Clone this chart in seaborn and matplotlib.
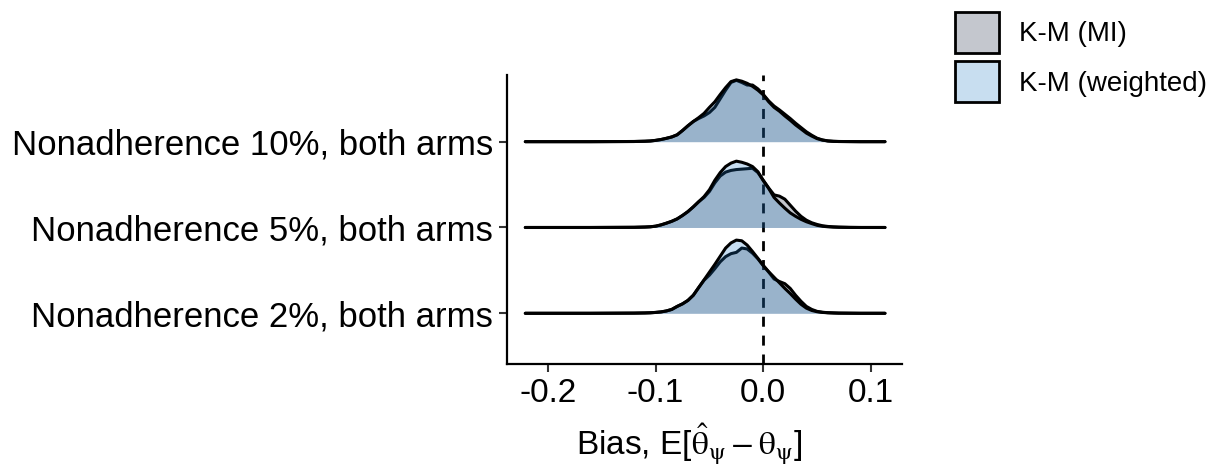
import numpy as np
import pandas as pd
import matplotlib
matplotlib.use("Agg")
import matplotlib.pyplot as plt
from matplotlib.patches import Patch
import seaborn as sns

# ---------------- data ----------------
categories = ["Nonadherence 2%, both arms",
              "Nonadherence 5%, both arms",
              "Nonadherence 10%, both arms"]
methods = ["K-M (MI)", "K-M (weighted)"]

# evaluation grid of the bias (x)
bias_grid = [-0.221, -0.16, -0.12, -0.11, -0.105, -0.10, -0.095, -0.09, -0.085, -0.08,
             -0.075, -0.07, -0.065, -0.06, -0.055, -0.05, -0.045, -0.04, -0.035, -0.03,
             -0.025, -0.02, -0.015, -0.01, -0.005, 0.0, 0.005, 0.01, 0.015, 0.02,
             0.025, 0.03, 0.035, 0.04, 0.045, 0.05, 0.055, 0.06, 0.065, 0.07,
             0.08, 0.09, 0.113]

# scaled ridge heights (fraction of row spacing)
dens_mi_2 = [0, 0, 0.002, 0.004, 0.006, 0.01, 0.016, 0.027, 0.045, 0.08,
             0.11, 0.15, 0.21, 0.30, 0.385, 0.445, 0.52, 0.60, 0.66, 0.695,
             0.71, 0.76, 0.75, 0.70, 0.635, 0.555, 0.48, 0.40, 0.37, 0.345,
             0.29, 0.21, 0.14, 0.08, 0.045, 0.022, 0.012, 0.007, 0.004, 0.002,
             0.001, 0, 0]
dens_w_2 = [0, 0, 0.002, 0.004, 0.006, 0.01, 0.016, 0.027, 0.045, 0.08,
            0.11, 0.15, 0.21, 0.30, 0.39, 0.48, 0.57, 0.665, 0.76, 0.82,
            0.853, 0.845, 0.795, 0.72, 0.64, 0.556, 0.485, 0.42, 0.355, 0.29,
            0.23, 0.165, 0.105, 0.06, 0.033, 0.018, 0.01, 0.006, 0.004, 0.002,
            0.001, 0, 0]
dens_mi_5 = [0, 0, 0.002, 0.005, 0.008, 0.015, 0.03, 0.05, 0.072, 0.10,
             0.14, 0.185, 0.24, 0.30, 0.35, 0.42, 0.52, 0.60, 0.645, 0.665,
             0.675, 0.68, 0.685, 0.69, 0.64, 0.55, 0.46, 0.38, 0.365, 0.33,
             0.26, 0.19, 0.13, 0.085, 0.055, 0.035, 0.02, 0.012, 0.007, 0.004,
             0.001, 0, 0]
dens_w_5 = [0, 0, 0.002, 0.005, 0.008, 0.015, 0.03, 0.05, 0.072, 0.10,
            0.14, 0.185, 0.24, 0.30, 0.36, 0.44, 0.55, 0.64, 0.71, 0.75,
            0.773, 0.76, 0.74, 0.71, 0.65, 0.545, 0.455, 0.35, 0.285, 0.225,
            0.17, 0.13, 0.095, 0.067, 0.045, 0.025, 0.014, 0.008, 0.005, 0.003,
            0.001, 0, 0]
dens_mi_10 = [0, 0, 0.002, 0.005, 0.008, 0.015, 0.025, 0.039, 0.055, 0.08,
              0.13, 0.185, 0.235, 0.27, 0.30, 0.34, 0.40, 0.50, 0.60, 0.69,
              0.715, 0.69, 0.66, 0.66, 0.615, 0.55, 0.475, 0.415, 0.37, 0.32,
              0.27, 0.215, 0.165, 0.115, 0.075, 0.04, 0.02, 0.009, 0.004, 0.002,
              0.001, 0, 0]
dens_w_10 = [0, 0, 0.002, 0.005, 0.008, 0.015, 0.025, 0.039, 0.055, 0.08,
             0.13, 0.185, 0.235, 0.28, 0.33, 0.40, 0.465, 0.55, 0.63, 0.70,
             0.72, 0.705, 0.68, 0.645, 0.60, 0.545, 0.465, 0.40, 0.355, 0.30,
             0.25, 0.195, 0.148, 0.10, 0.065, 0.035, 0.018, 0.008, 0.004, 0.002,
             0.001, 0, 0]

x_ticks = [-0.2, -0.1, 0.0, 0.1]
x_tick_labels = ["-0.2", "-0.1", "0.0", "0.1"]

densities = {
    ("Nonadherence 2%, both arms", "K-M (MI)"): dens_mi_2,
    ("Nonadherence 2%, both arms", "K-M (weighted)"): dens_w_2,
    ("Nonadherence 5%, both arms", "K-M (MI)"): dens_mi_5,
    ("Nonadherence 5%, both arms", "K-M (weighted)"): dens_w_5,
    ("Nonadherence 10%, both arms", "K-M (MI)"): dens_mi_10,
    ("Nonadherence 10%, both arms", "K-M (weighted)"): dens_w_10,
}

rows = []
for cat in categories:
    for m in methods:
        for xv, hv in zip(bias_grid, densities[(cat, m)]):
            rows.append({"category": cat, "method": m, "bias": xv, "height": hv})
df = pd.DataFrame(rows)

# ---------------- style ----------------
sns.set_theme(style="ticks")
plt.rcParams["font.family"] = ["Liberation Sans", "DejaVu Sans"]
plt.rcParams["mathtext.fontset"] = "stix"
plt.rcParams["text.color"] = "black"
plt.rcParams["axes.labelcolor"] = "black"

fill_colors = {"K-M (MI)": "#131F3B", "K-M (weighted)": "#1F7BC8"}
ALPHA = 0.25
LW = 2.2

fig = plt.figure(figsize=(12.11, 4.71), dpi=100)
ax = fig.add_axes([507 / 1211, 1 - 364 / 471, (902 - 507) / 1211, (364 - 75) / 471])

ax.axvline(0.0, color="black", lw=2.0, dashes=(3.6, 3.2), zorder=1)

z = 2
for i, cat in enumerate(categories):
    base = i + 1
    for m in methods:
        sub = df[(df.category == cat) & (df.method == m)]
        yv = base + sub["height"].to_numpy()
        ax.fill_between(sub["bias"].to_numpy(), base, yv, color=fill_colors[m],
                        alpha=ALPHA, lw=0, zorder=z)
        sns.lineplot(x=sub["bias"].to_numpy(), y=yv, ax=ax, color="black", lw=LW,
                     estimator=None, sort=False, zorder=z + 1)
        z += 2

ax.set_xlim(-0.238, 0.1288)
ax.set_ylim(0.409, 3.777)
ax.set_yticks([1, 2, 3])
ax.set_yticklabels(categories, fontsize=25, color="black")
ax.set_xticks(x_ticks)
ax.set_xticklabels(x_tick_labels, fontsize=24, color="black")
ax.tick_params(axis="both", length=6, width=1.5, color="#333333", pad=4)
for s in ["top", "right"]:
    ax.spines[s].set_visible(False)
for s in ["left", "bottom"]:
    ax.spines[s].set_linewidth(1.6)
    ax.spines[s].set_color("black")
ax.set_ylabel("")
ax.set_xlabel(r"Bias, E[$\hat{\mathrm{\theta}}_{\mathrm{\psi}} - \mathrm{\theta}_{\mathrm{\psi}}$]",
              fontsize=24, color="black")
ax.xaxis.set_label_coords(0.462, -0.2)

# legend keys show the translucent fill over white
key_cols = ["#C4C7CE", "#C8DEF0"]
handles = [Patch(facecolor=c, edgecolor="black", lw=2) for c in key_cols]
fig.legend(handles, methods, loc="upper left", bbox_to_anchor=(955 / 1211, 0.975),
           frameon=False, fontsize=20, handlelength=1.6, handleheight=1.9,
           labelspacing=0.3, handletextpad=0.7, borderpad=0.0, borderaxespad=0.0,
           labelcolor="black")

fig.savefig("out.png", dpi=100)
